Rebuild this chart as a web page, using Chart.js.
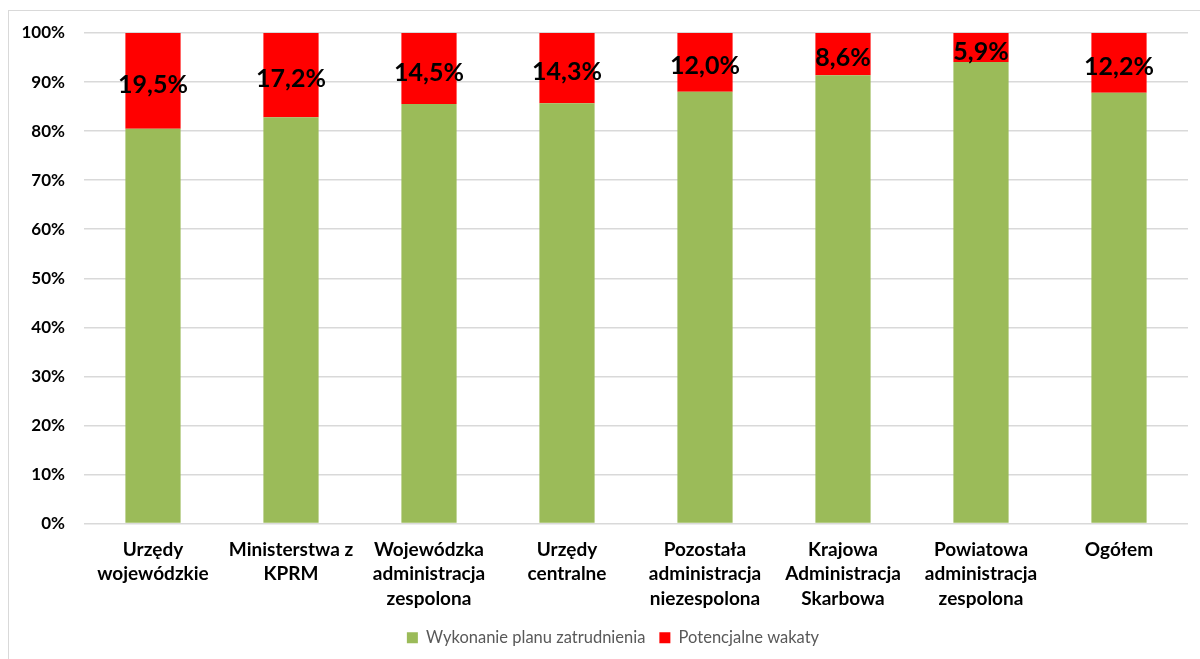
<!DOCTYPE html>
<html><head><meta charset="utf-8">
<script src="https://cdn.jsdelivr.net/npm/chart.js@4/dist/chart.umd.min.js"></script>
<style>
html,body{margin:0;padding:0;background:#fff;overflow:hidden;width:1200px;height:659px;}
#frame{position:absolute;left:8px;top:10px;width:1240px;height:700px;border:1.5px solid #d9d9d9;box-sizing:border-box;}
#wrap{position:absolute;left:0;top:0;width:1226px;height:659px;}
</style></head><body>
<div id="frame"></div>
<div id="wrap"><canvas id="c"></canvas></div>
<script>
const categories = [
  ["Urzędy","wojewódzkie"],
  ["Ministerstwa z","KPRM"],
  ["Wojewódzka","administracja","zespolona"],
  ["Urzędy","centralne"],
  ["Pozostała","administracja","niezespolona"],
  ["Krajowa","Administracja","Skarbowa"],
  ["Powiatowa","administracja","zespolona"],
  ["Ogółem"]
];
const wykonanie = [80.5, 82.8, 85.5, 85.7, 88.0, 91.4, 94.1, 87.8];
const wakaty = [19.5, 17.2, 14.5, 14.3, 12.0, 8.6, 5.9, 12.2];
const seriesNames = ["Wykonanie planu zatrudnienia", "Potencjalne wakaty"];

const FONT = "Lato, 'Open Sans', sans-serif";

const labelPlugin = {
  id: 'redLabels',
  afterDatasetsDraw(chart) {
    const ctx = chart.ctx;
    const meta = chart.getDatasetMeta(1);
    ctx.save();
    ctx.font = "bold 25px " + FONT;
    ctx.fillStyle = "#000";
    ctx.textAlign = "center";
    ctx.textBaseline = "middle";
    meta.data.forEach((bar, i) => {
      const p = bar.getProps(['x','y','base'], true);
      const yc = (p.y + p.base) / 2;
      ctx.fillText(wakaty[i].toFixed(1).replace('.', ',') + '%', p.x, yc + 4);
    });
    ctx.restore();
  }
};

new Chart(document.getElementById('c'), {
  type: 'bar',
  data: {
    labels: categories,
    datasets: [
      { label: seriesNames[0], data: wykonanie, backgroundColor: '#9bbb59', barPercentage: 0.4, categoryPercentage: 1.0 },
      { label: seriesNames[1], data: wakaty, backgroundColor: '#ff0000', barPercentage: 0.4, categoryPercentage: 1.0 }
    ]
  },
  options: {
    responsive: true,
    maintainAspectRatio: false,
    animation: false,
    layout: { padding: { top: 33, left: 0, right: 0, bottom: 3 } },
    plugins: {
      legend: {
        position: 'bottom',
        labels: { font: { family: FONT, size: 16.5 }, color: '#595959', boxWidth: 11, boxHeight: 11, padding: 14 }
      },
      tooltip: { enabled: false }
    },
    scales: {
      x: {
        stacked: true,
        grid: { display: false, drawTicks: false, tickLength: 0 },
        border: { display: false },
        ticks: { font: { family: FONT, size: 19, weight: 'bold', lineHeight: 1.29 }, color: '#000', padding: 14, maxRotation: 0, autoSkip: false },
        afterFit(s) { s.height = 92; }
      },
      y: {
        stacked: true,
        min: 0, max: 100,
        grid: { color: '#d9d9d9', lineWidth: 1.5, drawTicks: false },
        border: { display: false },
        ticks: { stepSize: 10, font: { family: FONT, size: 17, weight: 'bold' }, color: '#000', padding: 19, callback: v => v + '%' },
        afterFit(s) { s.width = 84; }
      },
      yRight: {
        position: 'right',
        display: true,
        grid: { display: false },
        border: { display: false },
        ticks: { display: false },
        afterFit(s) { s.width = 38; }
      }
    }
  },
  plugins: [labelPlugin]
});
</script>
</body></html>
